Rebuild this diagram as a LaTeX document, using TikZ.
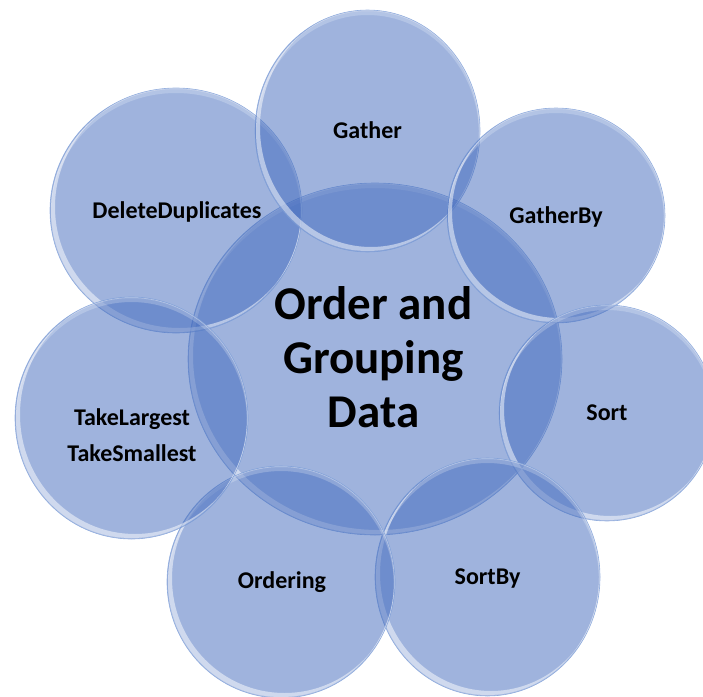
\documentclass[tikz,border=0pt]{standalone}
\usepackage{fontspec}
\setmainfont{Carlito}
\usetikzlibrary{shapes.geometric,calc}
\definecolor{bubblefill}{RGB}{63,104,188}
\definecolor{bubbleedge}{RGB}{120,155,215}
\tikzset{
  bubble/.style={ellipse, inner sep=0pt, outer sep=0pt,
    fill=bubblefill, fill opacity=0.5,
    draw=bubbleedge, draw opacity=0.7, line width=0.6pt,
    path picture={
      \path let \p1=(path picture bounding box.center),
                \p2=(path picture bounding box.north east),
                \n1={\x2-\x1}, \n2={\y2-\y1} in
        [fill=white, fill opacity=0.5, even odd rule]
        (\p1) ellipse [x radius=\n1-1pt, y radius=\n2-1pt]
        ($(\p1)+(3.5pt,3.5pt)$) ellipse [x radius=\n1-1.5pt, y radius=\n2-1.5pt];
      \path let \p1=(path picture bounding box.center),
                \p2=(path picture bounding box.north east),
                \n1={\x2-\x1}, \n2={\y2-\y1} in
        [fill=white, fill opacity=0.22, even odd rule]
        (\p1) ellipse [x radius=\n1-1pt, y radius=\n2-1pt]
        ($(\p1)+(0pt,-4pt)$) ellipse [x radius=\n1-1pt, y radius=\n2-1pt];
    }},
  lbl/.style={font=\bfseries\fontsize{24}{36}\selectfont, text=black, align=center, inner sep=0pt},
  biglbl/.style={font=\bfseries\fontsize{47}{54}\selectfont, text=black, align=center, inner sep=0pt},
}
\begin{document}
\begin{tikzpicture}[x=1pt,y=-1pt]
\useasboundingbox (0,0) rectangle (703,696);
% bubbles
\node[bubble, minimum width=374pt, minimum height=352pt] (center) at (375,359) {};
\node[bubble, minimum width=252pt, minimum height=245pt] (delete) at (176,210.5) {};
\node[bubble, minimum width=225pt, minimum height=242pt] (gather) at (367.5,131) {};
\node[bubble, minimum width=218pt, minimum height=215pt] (gatherby) at (556,215.5) {};
\node[bubble, minimum width=216pt, minimum height=216pt] (sort) at (607,413) {};
\node[bubble, minimum width=225pt, minimum height=238pt] (sortby) at (487.5,577) {};
\node[bubble, minimum width=228pt, minimum height=232pt] (ordering) at (281,582) {};
\node[bubble, minimum width=233pt, minimum height=242pt] (take) at (131.5,418) {};
% labels
\node[biglbl] (centertext) at (373.5,357.5) {Order and\\Grouping\\Data};
\node[lbl] (deletetext) at (177,212) {DeleteDuplicates};
\node[lbl] (gathertext) at (367.5,130.5) {Gather};
\node[lbl] (gatherbytext) at (556,217) {GatherBy};
\node[lbl] (sorttext) at (607,412.5) {Sort};
\node[lbl] (sortbytext) at (487.5,579) {SortBy};
\node[lbl] (orderingtext) at (282,582) {Ordering};
\node[lbl] (taketext) at (132,435.5) {TakeLargest\\TakeSmallest};
\end{tikzpicture}
\end{document}
